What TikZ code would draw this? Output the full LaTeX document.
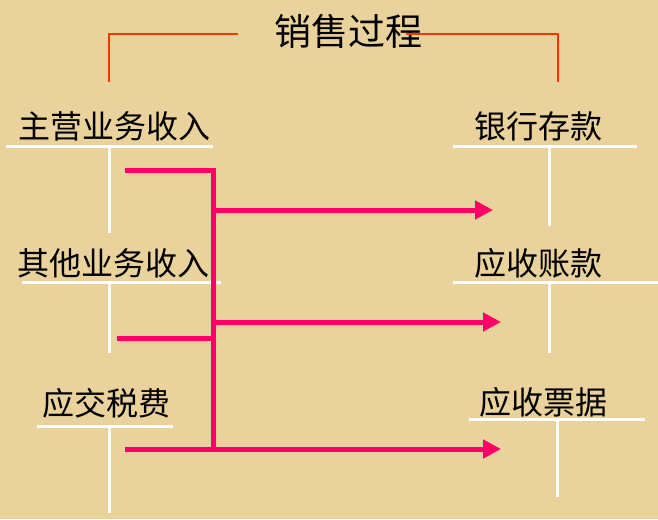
\documentclass[tikz,border=0pt]{standalone}
\usepackage{fontspec}
\newfontfamily\cjk{Noto Sans CJK SC}
\usetikzlibrary{arrows.meta}
\definecolor{papyrus}{RGB}{233,210,155}
\definecolor{flowpink}{RGB}{255,0,102}
\definecolor{leadred}{RGB}{255,51,0}
\tikzset{
  lbl/.style={inner sep=0pt, text=black, font=\cjk\fontsize{32}{32}\selectfont},
  ttl/.style={inner sep=0pt, text=black, font=\cjk\fontsize{37}{37}\selectfont},
  tacct/.style={draw=white, line width=3pt},
  lead/.style={draw=leadred, line width=1.4pt},
  flow/.style={draw=flowpink, line width=5pt},
  flowarrow/.style={flow, -{Triangle[length=18pt,width=18pt]}}
}
\begin{document}
\begin{tikzpicture}[x=1pt,y=-1pt]
\fill[papyrus] (0,0) rectangle (658,519);
\useasboundingbox (0,0) rectangle (658,519);

% title and lead lines
\node[ttl] (title) at (348,31) {销售过程};
\coordinate (lA) at (238,34);
\coordinate (lB) at (109,34);
\coordinate (lC) at (109,82);
\coordinate (rA) at (406,34);
\coordinate (rB) at (558,34);
\coordinate (rC) at (558,82);
\draw[lead] (lA) -- (lB) -- (lC);
\draw[lead] (rA) -- (rB) -- (rC);

% left accounts
\node[lbl] (zy) at (114,126) {主营业务收入};
\node[lbl] (qt) at (113.5,263) {其他业务收入};
\node[lbl] (sf) at (106,403) {应交税费};
% right accounts
\node[lbl] (yh) at (538,126) {银行存款};
\node[lbl] (ys) at (538,263.5) {应收账款};
\node[lbl] (pj) at (543.5,402) {应收票据};

% T accounts
\draw[tacct] (6,146) -- (213,146);
\draw[tacct] (109,146) -- (109,233);
\draw[tacct] (22,282) -- (221,282);
\draw[tacct] (109,282) -- (109,353);
\draw[tacct] (37,426) -- (173,426);
\draw[tacct] (109,426) -- (109,513);

\draw[tacct] (453,146) -- (637,146);
\draw[tacct] (549,146) -- (549,226);
\draw[tacct] (453,282) -- (658,282);
\draw[tacct] (549,282) -- (549,353);
\draw[tacct] (469,419) -- (645,419);
\draw[tacct] (557,419) -- (557,497);

% flows
\coordinate (s1) at (125,170);
\coordinate (k1) at (213,170);
\coordinate (s2) at (117,338);
\coordinate (k2) at (213,338);
\coordinate (s3) at (125,449);
\coordinate (k3) at (213,449);
\coordinate (b1) at (213,210);
\coordinate (b2) at (213,322);
\coordinate (t1) at (493,210);
\coordinate (t2) at (501,322);
\coordinate (t3) at (501,449);

\draw[flow, line join=miter] (s1) -- (k1) -- (k3);
\draw[flow] (s2) -- (k2);
\draw[flowarrow] (b1) -- (t1);
\draw[flowarrow] (b2) -- (t2);
\draw[flowarrow] (s3) -- (t3);
\end{tikzpicture}
\end{document}
